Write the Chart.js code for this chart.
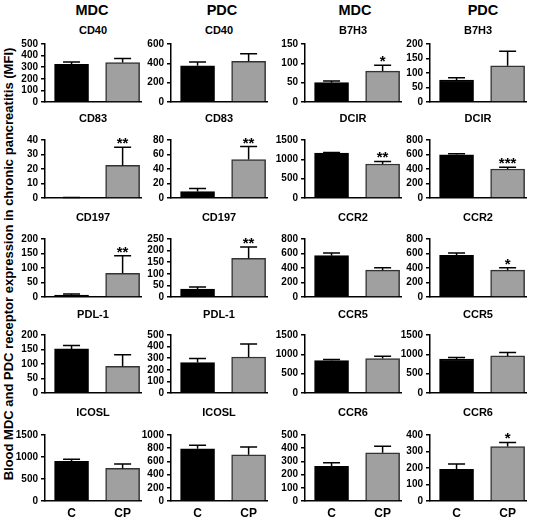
<!DOCTYPE html>
<html><head><meta charset="utf-8">
<script src="https://cdn.jsdelivr.net/npm/chart.js@4.4.1/dist/chart.umd.min.js"></script>
<style>
html,body{margin:0;padding:0;background:#fff;}
body{width:537px;height:520px;position:relative;overflow:hidden;font-family:"Liberation Sans",Arial,sans-serif;color:#000;}
canvas{position:absolute;}
.t{position:absolute;font-weight:bold;transform:translate(-50%,-50%);white-space:nowrap;line-height:1;}
</style></head><body>
<script>
// ---- data ----
const groups = ['C', 'CP'];
const headers = ['MDC', 'PDC', 'MDC', 'PDC'];
const yTitle = 'Blood MDC and PDC receptor expression in chronic pancreatitis (MFI)';
const markers = [
  ['CD40', 'CD40', 'B7H3', 'B7H3'],
  ['CD83', 'CD83', 'DCIR', 'DCIR'],
  ['CD197', 'CD197', 'CCR2', 'CCR2'],
  ['PDL-1', 'PDL-1', 'CCR5', 'CCR5'],
  ['ICOSL', 'ICOSL', 'CCR6', 'CCR6']
];
const means = [
  [[325, 340], [375, 422], [50, 80], [76, 125]],
  [[0.3, 22.5], [9, 53], [1160, 880], [595, 400]],
  [[7, 82], [34, 167], [570, 370], [575, 370]],
  [[152, 92], [262, 310], [840, 890], [880, 960]],
  [[900, 740], [790, 700], [262, 365], [192, 330]]
];
const errors = [
  [[20, 35], [38, 78], [4, 15], [8, 50]],
  [[0.1, 12.5], [4, 18], [15, 65], [15, 25]],
  [[3, 60], [9, 48], [38, 35], [32, 35]],
  [[12, 40], [35, 112], [25, 60], [35, 85]],
  [[50, 100], [55, 118], [28, 50], [32, 25]]
];
const stars = [
  [['', ''], ['', ''], ['', '*'], ['', '']],
  [['', '**'], ['', '**'], ['', '**'], ['', '***']],
  [['', '**'], ['', '**'], ['', ''], ['', '*']],
  [['', ''], ['', ''], ['', ''], ['', '']],
  [['', ''], ['', ''], ['', ''], ['', '*']]
];
const yMax = [
  [500, 600, 150, 200],
  [40, 80, 1500, 800],
  [200, 250, 800, 800],
  [200, 500, 1500, 1500],
  [1500, 1000, 500, 400]
];
const yStep = [
  [100, 200, 50, 50],
  [10, 20, 500, 200],
  [50, 50, 200, 200],
  [50, 100, 500, 500],
  [500, 200, 100, 100]
];

// ---- layout ----
const colAxisX = [45, 171, 305, 430];
const plotW = 96;
const rowTop = [44, 140, 239, 335, 435];
const plotH = 66;
const subY = [30, 118, 217, 314, 412];
const headX = [92, 222, 355, 483];
const headY = 10;
const yW = 42;
const padTop = 14;
const FONT = '"Liberation Sans", Arial, sans-serif';

function addText(txt, x, y, size, extra) {
  const d = document.createElement('div');
  d.className = 't';
  d.textContent = txt;
  d.style.left = x + 'px';
  d.style.top = y + 'px';
  d.style.fontSize = size + 'px';
  if (extra) Object.assign(d.style, extra);
  document.body.appendChild(d);
  return d;
}

headers.forEach((h, c) => addText(h, headX[c], headY, 14.5));
addText(yTitle, 8, 264, 13, {transform: 'translate(-50%,-50%) rotate(-90deg)'});

const errPlugin = {
  id: 'errbars',
  afterDatasetsDraw(chart) {
    const ctx = chart.ctx;
    const ys = chart.scales.y;
    const ds = chart.data.datasets[0];
    const meta = chart.getDatasetMeta(0);
    ctx.save();
    meta.data.forEach((bar, i) => {
      const v = ds.data[i].y;
      const e = ds.errs[i];
      const top = ys.getPixelForValue(v + e);
      const base = bar.y;
      ctx.strokeStyle = '#000';
      ctx.lineWidth = 1.5;
      ctx.beginPath();
      ctx.moveTo(bar.x, base);
      ctx.lineTo(bar.x, top);
      ctx.moveTo(bar.x - 8.5, top);
      ctx.lineTo(bar.x + 8.5, top);
      ctx.stroke();
      const s = ds.sig[i];
      if (s) {
        ctx.fillStyle = '#000';
        ctx.font = 'bold 15px ' + FONT;
        ctx.textAlign = 'center';
        ctx.textBaseline = 'alphabetic';
        ctx.fillText(s, bar.x, top + 1);
      }
    });
    ctx.restore();
  }
};

for (let r = 0; r < 5; r++) {
  for (let c = 0; c < 4; c++) {
    addText(markers[r][c], colAxisX[c] + plotW / 2, subY[r], 11);
    const last = r === 4;
    const xh = last ? 20 : 1;
    const cv = document.createElement('canvas');
    const W = yW + plotW + 4;
    const H = padTop + plotH + xh;
    cv.width = W; cv.height = H;
    cv.style.width = W + 'px'; cv.style.height = H + 'px';
    cv.style.left = (colAxisX[c] - yW) + 'px';
    cv.style.top = (rowTop[r] - padTop) + 'px';
    document.body.appendChild(cv);
    new Chart(cv.getContext('2d'), {
      type: 'bar',
      data: {
        datasets: [{
          data: groups.map((g, i) => ({x: i, y: means[r][c][i]})),
          errs: errors[r][c],
          sig: stars[r][c],
          backgroundColor: ['#000000', '#a0a0a0'],
          borderColor: ['#000000', '#333333'],
          borderWidth: 1.5,
          barThickness: 34
        }]
      },
      options: {
        responsive: false,
        animation: false,
        devicePixelRatio: 1,
        layout: {autoPadding: false, padding: {top: padTop, right: 4, left: 0, bottom: 0}},
        plugins: {legend: {display: false}, tooltip: {enabled: false}},
        scales: {
          x: {
            type: 'linear',
            offset: false,
            min: -0.52,
            max: 1.36,
            grid: {display: false, drawTicks: false, offset: false},
            border: {display: true, color: '#000', width: 1.5},
            afterBuildTicks: s => { s.ticks = groups.map((g, i) => ({value: i})); },
            ticks: {
              display: last,
              autoSkip: false,
              maxRotation: 0,
              callback: v => groups[v],
              font: {family: FONT, size: 12, weight: 'bold'},
              color: '#000',
              padding: 5
            },
            afterFit: s => { s.height = xh; }
          },
          y: {
            min: 0,
            max: yMax[r][c],
            ticks: {
              stepSize: yStep[r][c],
              autoSkip: false,
              callback: v => String(v),
              font: {family: FONT, size: 10, weight: 'bold'},
              color: '#000',
              padding: 3
            },
            grid: {drawOnChartArea: false, tickLength: 4, color: '#000', lineWidth: 1.5},
            border: {display: true, color: '#000', width: 1.5},
            afterFit: s => { s.width = yW; }
          }
        }
      },
      plugins: [errPlugin]
    });
  }
}
</script>
</body></html>
